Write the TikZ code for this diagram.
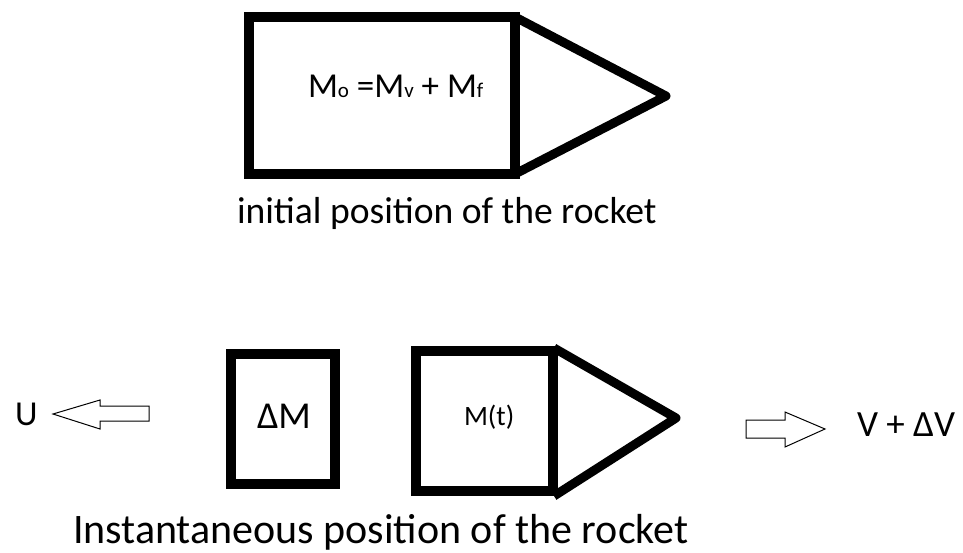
\documentclass[tikz,border=0pt]{standalone}
\usepackage{fontspec}
\setmainfont{Carlito}
\begin{document}
\begin{tikzpicture}[x=1pt,y=-1pt,
  box/.style={draw=black,line width=10pt,inner sep=0pt,outer sep=0pt},
  cone/.style={draw=black,line width=9pt,line join=round},
  lbl/.style={inner sep=0pt,outer sep=0pt,anchor=base west,text=black},
  hollow/.style={draw=black,line width=1pt,fill=white,line join=miter}]
\useasboundingbox (0,0) rectangle (963,552);
% top rocket
\node[box,minimum width=266pt,minimum height=157pt] (body0) at (382,95.5) {};
\coordinate (tip0) at (666,96);
\draw[cone] (body0.north east) -- (tip0) -- (body0.south east);
\node[lbl] (m0) at (308,97) {\fontsize{35}{38}\selectfont M{\fontsize{21}{23}\selectfont o} =M{\fontsize{21}{23}\selectfont v} + M{\fontsize{21}{23}\selectfont f}};
\node[lbl] (cap0) at (237,223) {\fontsize{37.6}{42}\selectfont initial position of the rocket};
% bottom: expelled mass
\node[box,minimum width=104pt,minimum height=130pt] (dm) at (283,419) {};
\node[lbl] (dmt) at (257,428) {\fontsize{38}{40}\selectfont ΔM};
% bottom rocket
\node[box,minimum width=137pt,minimum height=140pt] (body1) at (484.5,421) {};
\coordinate (tip1) at (676,418);
\coordinate (c1a) at (554,348);
\coordinate (c1b) at (554,496);
\draw[cone] (c1a) -- (tip1) -- (c1b);
\node[lbl] (mt) at (464,425) {\fontsize{28}{30}\selectfont M(t)};
% arrows
\draw[hollow] (149,406) -- (100,406) -- (100,400) -- (53,414) -- (100,429) -- (100,421) -- (149,421) -- cycle;
\node[lbl] (u) at (15,425) {\fontsize{35}{38}\selectfont U};
\draw[hollow] (746,420) -- (785,420) -- (785,412) -- (825,429) -- (785,447) -- (785,438) -- (746,438) -- cycle;
\node[lbl] (v) at (857,436) {\fontsize{37}{40}\selectfont V + ΔV};
\node[lbl] (cap1) at (73,543) {\fontsize{42}{46}\selectfont Instantaneous position of the rocket};
\end{tikzpicture}
\end{document}
